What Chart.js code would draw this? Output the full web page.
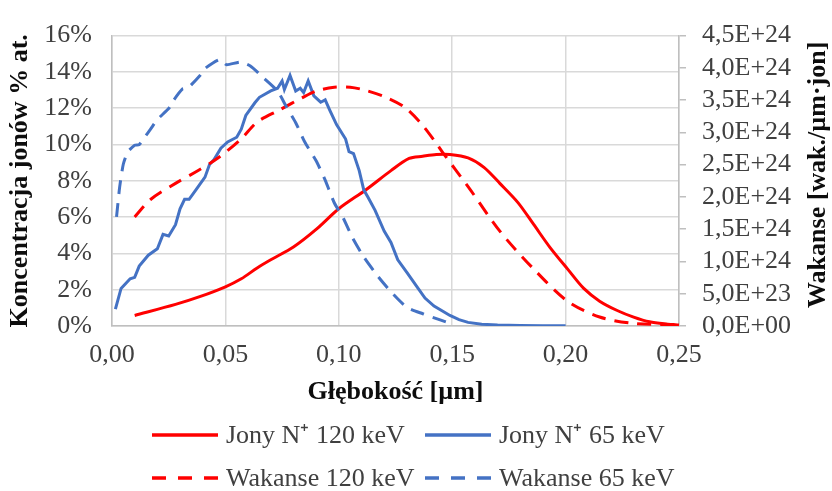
<!DOCTYPE html>
<html>
<head>
<meta charset="utf-8">
<script src="https://cdn.jsdelivr.net/npm/chart.js@4.4.1/dist/chart.umd.min.js"></script>
<style>
  html, body { margin: 0; padding: 0; background: #fff; }
  #depthChart { display: block; }
</style>
</head>
<body>
<canvas id="depthChart" width="832" height="491"></canvas>
<script>
// Depth profiles: ion concentration (left axis, %) and vacancies (right axis)
const ions120X = [0.010, 0.028, 0.039, 0.050, 0.057, 0.064, 0.070, 0.080, 0.090, 0.100, 0.112, 0.123, 0.131, 0.137, 0.143, 0.149, 0.157, 0.164, 0.171, 0.179, 0.186, 0.193, 0.201, 0.208, 0.215, 0.223, 0.230, 0.237, 0.245, 0.250];
const ions120 = [0.58, 1.19, 1.63, 2.16, 2.6, 3.2, 3.65, 4.35, 5.32, 6.46, 7.51, 8.56, 9.23, 9.35, 9.45, 9.45, 9.26, 8.74, 7.86, 6.8, 5.58, 4.35, 3.12, 2.07, 1.37, 0.84, 0.49, 0.23, 0.1, 0.05];

const ions65X = [0.0015, 0.004, 0.008, 0.010, 0.012, 0.016, 0.020, 0.0225, 0.025, 0.028, 0.030, 0.032, 0.034, 0.037, 0.041, 0.043, 0.045, 0.048, 0.051, 0.055, 0.057, 0.059, 0.063, 0.065, 0.070, 0.073, 0.075, 0.076, 0.0785, 0.081, 0.083, 0.0845, 0.0865, 0.089, 0.092, 0.094, 0.096, 0.099, 0.103, 0.1045, 0.1065, 0.109, 0.111, 0.113, 0.116, 0.120, 0.123, 0.126, 0.130, 0.1345, 0.138, 0.142, 0.1455, 0.149, 0.153, 0.157, 0.163, 0.170, 0.180, 0.190, 0.200];
const ions65 = [0.93, 2.07, 2.6, 2.68, 3.3, 3.9, 4.26, 5.05, 4.96, 5.58, 6.46, 6.98, 6.98, 7.5, 8.2, 8.9, 9.17, 9.8, 10.14, 10.4, 10.84, 11.6, 12.3, 12.6, 12.95, 13.1, 13.5, 13.03, 13.8, 12.95, 13.1, 12.86, 13.5, 12.68, 12.33, 12.46, 11.9, 11.1, 10.3, 9.6, 9.5, 8.56, 7.5, 7.07, 6.37, 5.23, 4.6, 3.65, 2.95, 2.16, 1.54, 1.1, 0.84, 0.58, 0.35, 0.2, 0.1, 0.05, 0.03, 0.02, 0.02];

const vac120X = [0.010, 0.017, 0.028, 0.038, 0.047, 0.057, 0.064, 0.074, 0.084, 0.090, 0.098, 0.105, 0.112, 0.121, 0.129, 0.136, 0.142, 0.146, 0.157, 0.171, 0.186, 0.201, 0.215, 0.230, 0.250];
const vac120 = [1.69e24, 1.96e24, 2.21e24, 2.41e24, 2.61e24, 2.9e24, 3.16e24, 3.35e24, 3.54e24, 3.64e24, 3.7e24, 3.7e24, 3.65e24, 3.54e24, 3.39e24, 3.15e24, 2.88e24, 2.68e24, 2.16e24, 1.47e24, 0.88e24, 0.38e24, 0.14e24, 0.04e24, 0.02e24];

const vac65X = [0.002, 0.0034, 0.005, 0.007, 0.010, 0.012, 0.0145, 0.017, 0.020, 0.025, 0.027, 0.031, 0.0335, 0.039, 0.041, 0.0475, 0.0505, 0.0565, 0.061, 0.067, 0.073, 0.077, 0.081, 0.085, 0.090, 0.094, 0.098, 0.102, 0.106, 0.111, 0.117, 0.123, 0.130, 0.137, 0.145, 0.150];
const vac65 = [1.69e24, 2.16e24, 2.51e24, 2.7e24, 2.8e24, 2.81e24, 2.93e24, 3.05e24, 3.2e24, 3.37e24, 3.49e24, 3.67e24, 3.69e24, 3.89e24, 3.99e24, 4.13e24, 4.05e24, 4.09e24, 4.03e24, 3.84e24, 3.64e24, 3.39e24, 3.15e24, 2.85e24, 2.56e24, 2.26e24, 1.91e24, 1.67e24, 1.37e24, 1.07e24, 0.78e24, 0.53e24, 0.29e24, 0.19e24, 0.09e24, 0.03e24];

const seriesLabels = ['Jony N\u207A 120 keV', 'Jony N\u207A 65 keV', 'Wakanse 120 keV', 'Wakanse 65 keV'];
const xTitle = 'Głębokość [µm]';
const leftTitle = 'Koncentracja jonów % at.';
const rightTitle = 'Wakanse [wak./µm·jon]';

const RED = '#ff0000';
const BLUE = '#4472c4';
const GRID = '#d9d9d9';
const TEXT = '#404040';

Chart.defaults.font.family = '"Liberation Serif", "Times New Roman", serif';
Chart.defaults.font.size = 26;
Chart.defaults.color = TEXT;

const toPoints = (xs, ys) => xs.map((x, i) => ({ x: x, y: ys[i] }));

// comma decimals like 0,05
const commaFixed = (v, d) => v.toFixed(d).replace('.', ',');

// 4,5E+24 style labels for the vacancy axis
function sciLabel(v) {
  const s = Number(v).toExponential(1);
  const [mant, exp] = s.split('e');
  const sign = exp[0];
  const digits = exp.slice(1).padStart(2, '0');
  return mant.replace('.', ',') + 'E' + sign + digits;
}

// right-hand title (reads bottom-to-top) and the two-column legend under the plot
const extrasPlugin = {
  id: 'extras',
  afterDraw(chart) {
    const ctx = chart.ctx;
    const area = chart.chartArea;
    ctx.save();

    ctx.font = 'bold 26px "Liberation Serif", "Times New Roman", serif';
    ctx.fillStyle = '#0d0d0d';
    ctx.textAlign = 'center';
    ctx.textBaseline = 'middle';
    ctx.translate(chart.width - 14, (area.top + area.bottom) / 2 - 6);
    ctx.rotate(-Math.PI / 2);
    ctx.fillText(rightTitle, 0, 0);
    ctx.setTransform(1, 0, 0, 1, 0, 0);

    const cols = [152, 425];
    const rows = [435, 478];
    ctx.font = '26px "Liberation Serif", "Times New Roman", serif';
    ctx.fillStyle = TEXT;
    ctx.textAlign = 'left';
    chart.data.datasets.forEach((ds, i) => {
      const x = cols[i % 2];
      const y = rows[Math.floor(i / 2)];
      ctx.strokeStyle = ds.borderColor;
      ctx.lineWidth = 3.5;
      ctx.setLineDash(ds.borderDash ? [14, 12] : []);
      ctx.beginPath();
      ctx.moveTo(x, y);
      ctx.lineTo(x + 66, y);
      ctx.stroke();
      ctx.setLineDash([]);
      ctx.fillText(ds.label, x + 74, y + 1);
    });
    ctx.restore();
  }
};

const ctx = document.getElementById('depthChart').getContext('2d');

new Chart(ctx, {
  type: 'line',
  data: {
    datasets: [
      {
        label: seriesLabels[0],
        data: toPoints(ions120X, ions120),
        borderColor: RED,
        yAxisID: 'yIons',
        order: 4,
        tension: 0.3
      },
      {
        label: seriesLabels[1],
        data: toPoints(ions65X, ions65),
        borderColor: BLUE,
        yAxisID: 'yIons',
        order: 3,
        tension: 0
      },
      {
        label: seriesLabels[2],
        data: toPoints(vac120X, vac120),
        borderColor: RED,
        borderDash: [14, 9],
        yAxisID: 'yVac',
        order: 2,
        tension: 0.3
      },
      {
        label: seriesLabels[3],
        data: toPoints(vac65X, vac65),
        borderColor: BLUE,
        borderDash: [14, 9],
        yAxisID: 'yVac',
        order: 1,
        tension: 0.2
      }
    ]
  },
  options: {
    responsive: false,
    devicePixelRatio: 1,
    animation: false,
    layout: {
      padding: { top: 22, left: 0, right: 0, bottom: 75 }
    },
    elements: {
      point: { radius: 0 },
      line: { borderWidth: 3, fill: false, borderCapStyle: 'butt' }
    },
    scales: {
      x: {
        type: 'linear',
        position: 'bottom',
        min: 0,
        max: 0.25,
        afterFit: scale => { scale.height = 90; },
        ticks: {
          stepSize: 0.05,
          padding: 14,
          autoSkip: false,
          maxRotation: 0,
          color: TEXT,
          callback: value => commaFixed(value, 2)
        },
        grid: { color: GRID, lineWidth: 1.5, drawTicks: false },
        border: { display: true, color: '#bfbfbf', width: 1.5 },
        title: {
          display: true,
          text: xTitle,
          color: '#0d0d0d',
          font: { weight: 'bold', size: 26 },
          padding: { top: 0, bottom: 8 }
        }
      },
      yIons: {
        type: 'linear',
        position: 'left',
        min: 0,
        max: 16,
        afterFit: scale => { scale.width = 112; },
        ticks: {
          stepSize: 2,
          padding: 20,
          autoSkip: false,
          color: TEXT,
          callback: value => value + '%'
        },
        grid: { color: GRID, lineWidth: 1.5, drawTicks: false },
        border: { display: true, color: '#bfbfbf', width: 1.5 },
        title: {
          display: true,
          text: leftTitle,
          color: '#0d0d0d',
          font: { weight: 'bold', size: 26 },
          padding: { top: 5, bottom: 0 }
        }
      },
      yVac: {
        type: 'linear',
        position: 'right',
        min: 0,
        max: 4.5e24,
        afterFit: scale => { scale.width = 153; },
        ticks: {
          stepSize: 5e23,
          padding: 16,
          autoSkip: false,
          color: TEXT,
          callback: value => sciLabel(value)
        },
        grid: {
          drawOnChartArea: false,
          drawTicks: true,
          tickLength: 7,
          color: '#bfbfbf',
          lineWidth: 1.5
        },
        border: { display: true, color: '#bfbfbf', width: 1.5 }
      }
    },
    plugins: {
      legend: { display: false },
      tooltip: { enabled: false }
    }
  },
  plugins: [extrasPlugin]
});
</script>
</body>
</html>
